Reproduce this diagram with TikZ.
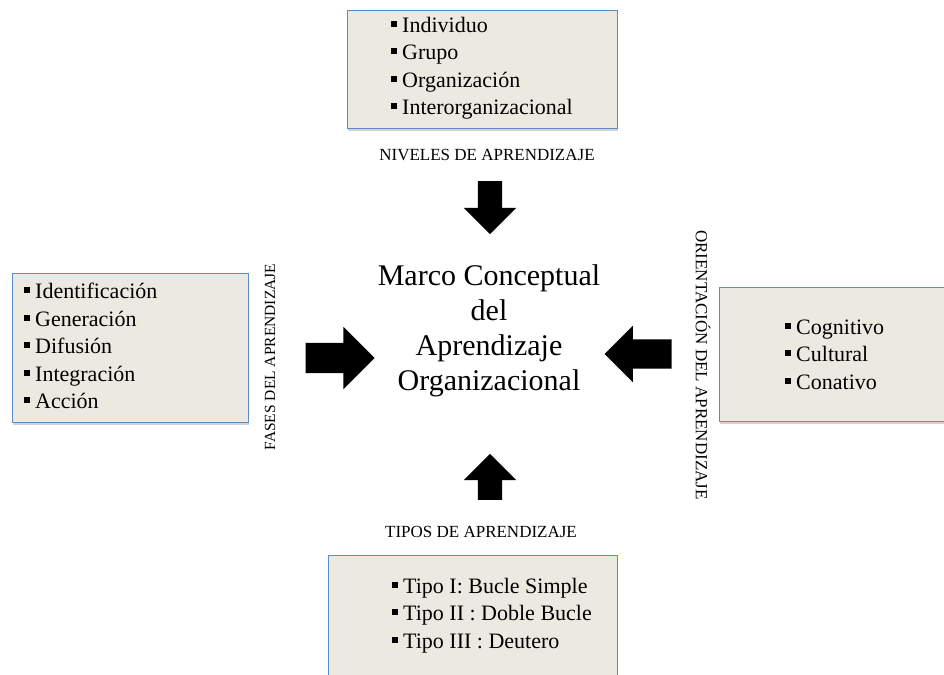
\documentclass[tikz,border=0pt]{standalone}
\usepackage{fontspec}
\setmainfont{Liberation Serif}
\usetikzlibrary{shapes.arrows,shadows}

\definecolor{boxfill}{HTML}{ECE9E0}
\definecolor{boxline}{HTML}{5B8BC8}

\newcommand{\itm}[1]{\rule[0.25em]{6pt}{6pt}\hspace{5pt}#1}

\tikzset{
  caja/.style={draw=boxline,fill=boxfill,line width=0.9pt,inner sep=0pt,
    drop shadow={shadow xshift=0.5pt,shadow yshift=-2.5pt,opacity=0.35}},
  lista/.style={anchor=west,align=left,inner sep=0pt,font=\fontsize{22}{27.5}\selectfont},
  rotulo/.style={inner sep=0pt,font=\fontsize{17}{20}\selectfont},
  flecha/.style={single arrow,fill=black,draw=none,inner sep=0pt,
    single arrow head extend=#1},
}

\begin{document}
\begin{tikzpicture}[x=1pt,y=-1pt]
  \useasboundingbox (0,0) rectangle (944,674);
  \node[caja,minimum width=270pt,minimum height=118pt] (niveles) at (482,69) {};
  \node[caja,minimum width=236pt,minimum height=149pt] (fases) at (130,347.5) {};
  \node[caja,minimum width=232pt,minimum height=134pt] (orient) at (835,354) {};
  \node[caja,minimum width=289pt,minimum height=125pt] (tipos) at (472.5,617.5) {};

  \node[lista] (lniveles) at (391,68) {\itm{Individuo}\\ \itm{Grupo}\\ \itm{Organización}\\ \itm{Interorganizacional}};
  \node[lista] (lfases) at (24,346) {\itm{Identificación}\\ \itm{Generación}\\ \itm{Difusión}\\ \itm{Integración}\\ \itm{Acción}};
  \node[lista] (lorient) at (785,354.5) {\itm{Cognitivo}\\ \itm{Cultural}\\ \itm{Conativo}};
  \node[lista] (ltipos) at (392,615.5) {\itm{Tipo I: Bucle Simple}\\ \itm{Tipo II : Doble Bucle}\\ \itm{Tipo III : Deutero}};

  \node[rotulo] (tniveles) at (487,155) {NIVELES DE APRENDIZAJE};
  \node[rotulo] (ttipos) at (481,532) {TIPOS DE APRENDIZAJE};
  \node[rotulo,font=\fontsize{15.5}{18}\selectfont,rotate=90] (tfases) at (270,357) {FASES DEL APRENDIZAJE};
  \node[rotulo,rotate=-90] (torient) at (703,365) {ORIENTACIÓN DEL APRENDIZAJE};

  \node[align=center,inner sep=0pt,font=\fontsize{30}{35}\selectfont] (marco) at (489,331)
    {Marco Conceptual\\ del\\ Aprendizaje\\ Organizacional};

  \node[flecha=14pt,minimum width=52pt,minimum height=53pt,shape border rotate=270,text width=24pt] (fsup) at (490,201.5) {};
  \node[flecha=14pt,minimum width=52pt,minimum height=46pt,shape border rotate=90,text width=24pt] (finf) at (490,483) {};
  \node[flecha=16pt,minimum width=62pt,minimum height=69pt,text height=30pt] (fizq) at (332.5,358) {};
  \node[flecha=13.5pt,minimum width=56pt,minimum height=67pt,shape border rotate=180,text height=29pt] (fder) at (645.5,354) {};
\end{tikzpicture}
\end{document}
